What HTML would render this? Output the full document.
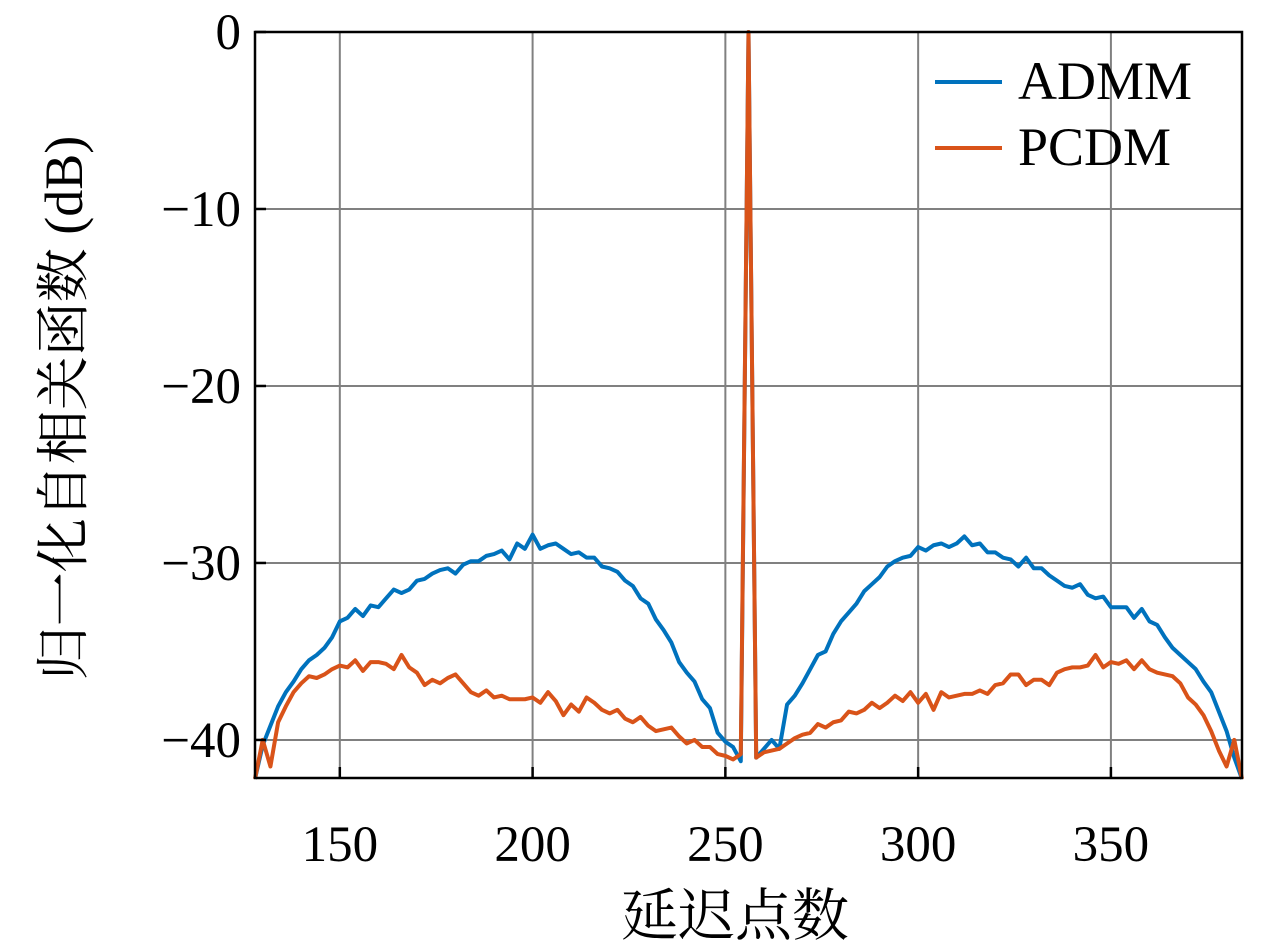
<!DOCTYPE html>
<html><head><meta charset="utf-8"><style>
html,body{margin:0;padding:0;background:#fff;}
svg{display:block;}
text{font-family:"Liberation Serif","Noto Serif CJK SC",serif;fill:#000;}
</style></head><body>
<svg id="chart" width="1280" height="951" viewBox="0 0 1280 951" xmlns="http://www.w3.org/2000/svg">
<g id="grid"></g>
<g id="series"></g>
<g id="axes"></g>
<text x="735" y="935" font-size="57" text-anchor="middle" style="font-family:'Noto Serif CJK SC','Noto Sans CJK SC',serif">延迟点数</text>
<text transform="translate(82,408) rotate(-90)" font-size="54" text-anchor="middle" style="font-family:'Liberation Serif','Noto Serif CJK SC',serif">归一化自相关函数 (dB)</text>
<g>
<line x1="935" y1="82" x2="1002" y2="82" stroke="#0072BD" stroke-width="4"/>
<text x="1018" y="99" font-size="54">ADMM</text>
<line x1="935" y1="148" x2="1002" y2="148" stroke="#D95319" stroke-width="4"/>
<text x="1018" y="165" font-size="54">PCDM</text>
</g>
</svg>
<script>
const xTicks = [150, 200, 250, 300, 350];
const yTicks = [0, -10, -20, -30, -40];
const yTickLabels = ["0", "\u221210", "\u221220", "\u221230", "\u221240"];
const lagsLeft = [128,130,132,134,136,138,140,142,144,146,148,150,152,154,156,158,160,162,164,166,168,170,172,174,176,178,180,182,184,186,188,190,192,194,196,198,200,202,204,206,208,210,212,214,216,218,220,222,224,226,228,230,232,234,236,238,240,242,244,246,248,250,252,254];
const lagsPeak = [256];
const lagsRight = [258,260,262,264,266,268,270,272,274,276,278,280,282,284,286,288,290,292,294,296,298,300,302,304,306,308,310,312,314,316,318,320,322,324,326,328,330,332,334,336,338,340,342,344,346,348,350,352,354,356,358,360,362,364,366,368,370,372,374,376,378,380,382,384];
const admmLeft = [-42.2,-40.3,-39.2,-38.1,-37.3,-36.7,-36.0,-35.5,-35.2,-34.8,-34.2,-33.3,-33.1,-32.6,-33.0,-32.4,-32.5,-32.0,-31.5,-31.7,-31.5,-31.0,-30.9,-30.6,-30.4,-30.3,-30.6,-30.1,-29.9,-29.9,-29.6,-29.5,-29.3,-29.8,-28.9,-29.2,-28.4,-29.2,-29.0,-28.9,-29.2,-29.5,-29.4,-29.7,-29.7,-30.2,-30.3,-30.5,-31.0,-31.3,-32.0,-32.3,-33.2,-33.8,-34.5,-35.6,-36.2,-36.7,-37.7,-38.2,-39.6,-40.1,-40.4,-41.2];
const admmPeak = [0];
const admmRight = [-41.0,-40.5,-40.0,-40.5,-38.0,-37.5,-36.8,-36.0,-35.2,-35.0,-34.0,-33.3,-32.8,-32.3,-31.6,-31.2,-30.8,-30.2,-29.9,-29.7,-29.6,-29.1,-29.3,-29.0,-28.9,-29.1,-28.9,-28.5,-29.0,-28.9,-29.4,-29.4,-29.7,-29.8,-30.2,-29.7,-30.3,-30.3,-30.7,-31.0,-31.3,-31.4,-31.2,-31.8,-32.0,-31.9,-32.5,-32.5,-32.5,-33.1,-32.6,-33.3,-33.5,-34.2,-34.8,-35.2,-35.6,-36.0,-36.7,-37.3,-38.4,-39.5,-41.0,-42.2];
const pcdmLeft = [-42.2,-40.0,-41.5,-39.0,-38.1,-37.3,-36.8,-36.4,-36.5,-36.3,-36.0,-35.8,-35.9,-35.5,-36.1,-35.6,-35.6,-35.7,-36.0,-35.2,-35.9,-36.2,-36.9,-36.6,-36.8,-36.5,-36.3,-36.8,-37.3,-37.5,-37.2,-37.6,-37.5,-37.7,-37.7,-37.7,-37.6,-37.9,-37.3,-37.8,-38.6,-38.0,-38.4,-37.6,-37.9,-38.3,-38.5,-38.3,-38.8,-39.0,-38.7,-39.2,-39.5,-39.4,-39.3,-39.8,-40.2,-40.0,-40.4,-40.4,-40.8,-40.9,-41.1,-40.8];
const pcdmPeak = [0];
const pcdmRight = [-41.0,-40.7,-40.6,-40.5,-40.2,-39.9,-39.7,-39.6,-39.1,-39.3,-39.0,-38.9,-38.4,-38.5,-38.3,-37.9,-38.2,-37.9,-37.5,-37.8,-37.3,-37.9,-37.4,-38.3,-37.3,-37.6,-37.5,-37.4,-37.4,-37.2,-37.4,-36.9,-36.8,-36.3,-36.3,-36.9,-36.6,-36.6,-36.9,-36.2,-36.0,-35.9,-35.9,-35.8,-35.2,-35.9,-35.6,-35.7,-35.5,-36.0,-35.5,-36.0,-36.2,-36.3,-36.4,-36.8,-37.6,-38.0,-38.6,-39.5,-40.6,-41.5,-40.0,-42.2];

const L=255,R=1242,T=32,B=778, X0=128, X1=384, Y0=-42.15, Y1=0;
function sx(v){return L+(v-X0)/(X1-X0)*(R-L);}
function sy(v){return T+(Y1-v)/(Y1-Y0)*(B-T);}
const NS="http://www.w3.org/2000/svg";
function mk(tag,attrs,parent){const e=document.createElementNS(NS,tag);for(const k in attrs)e.setAttribute(k,attrs[k]);parent.appendChild(e);return e;}
const grid=document.getElementById('grid'), axes=document.getElementById('axes'), series=document.getElementById('series');
mk('rect',{x:L,y:T,width:R-L,height:B-T,fill:'#fff'},grid);
xTicks.forEach(t=>{
  const g=mk('line',{x1:sx(t),x2:sx(t),y1:T,y2:B,stroke:'#808080','stroke-width':2},grid);
  
  
  const tk=mk('line',{x1:sx(t),x2:sx(t),y1:B,y2:B-11,stroke:'#000','stroke-width':2.5},axes);
  
  
  const lb=mk('text',{x:sx(t),y:861,'font-size':51,'text-anchor':'middle'},axes);
  lb.textContent=String(t);
  
  
});
yTicks.forEach((t,i)=>{
  const g=mk('line',{x1:L,x2:R,y1:sy(t),y2:sy(t),stroke:'#808080','stroke-width':2},grid);
  
  
  const tk=mk('line',{x1:L,x2:L+11,y1:sy(t),y2:sy(t),stroke:'#000','stroke-width':2.5},axes);
  
  
  const lb=mk('text',{x:241,y:sy(t)+17,'font-size':51,'text-anchor':'end'},axes);
  lb.textContent=yTickLabels[i];
  
  
});
const frame=mk('rect',{x:L,y:T,width:R-L,height:B-T,fill:'none',stroke:'#000','stroke-width':2.5},axes);


function draw(lags,vals,color,name){
  const d=lags.map((x,i)=>(i?'L':'M')+sx(x).toFixed(2)+','+sy(vals[i]).toFixed(2)).join('');
  const p=mk('path',{d:d,fill:'none',stroke:color,'stroke-width':4,'stroke-linejoin':'round'},series);
  
  
}
const lags=lagsLeft.concat(lagsPeak,lagsRight);
draw(lags,admmLeft.concat(admmPeak,admmRight),'#0072BD','admm-line');
draw(lags,pcdmLeft.concat(pcdmPeak,pcdmRight),'#D95319','pcdm-line');
</script>
</body></html>
